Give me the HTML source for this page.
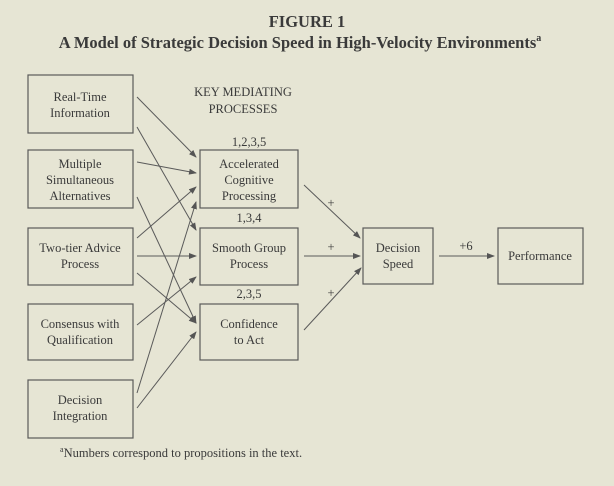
<!DOCTYPE html>
<html><head><meta charset="utf-8"><style>
html,body{margin:0;padding:0;background:#e6e5d4;}
svg{display:block;}
text{font-family:"Liberation Serif",serif;fill:#3a3a3a;}
</style></head><body>
<svg width="614" height="486" viewBox="0 0 614 486" xmlns="http://www.w3.org/2000/svg">
<defs><marker id="a" markerWidth="8" markerHeight="6" refX="7" refY="3" orient="auto" markerUnits="userSpaceOnUse"><path d="M0,0 L8,3 L0,6 z" fill="#555"/></marker></defs>
<rect width="614" height="486" fill="#e6e5d4"/>
<text x="307" y="27" text-anchor="middle" font-size="16.5" font-weight="bold">FIGURE 1</text>
<text x="300" y="48" text-anchor="middle" font-size="16.5" font-weight="bold">A Model of Strategic Decision Speed in High-Velocity Environments<tspan font-size="10" dy="-7">a</tspan></text>
<g fill="none" stroke="#5a5a5a" stroke-width="1.2">
<rect x="28" y="75" width="105" height="58"/>
<rect x="28" y="150" width="105" height="58"/>
<rect x="28" y="228" width="105" height="57"/>
<rect x="28" y="304" width="105" height="56"/>
<rect x="28" y="380" width="105" height="58"/>
<rect x="200" y="150" width="98" height="58"/>
<rect x="200" y="228" width="98" height="57"/>
<rect x="200" y="304" width="98" height="56"/>
<rect x="363" y="228" width="70" height="56"/>
<rect x="498" y="228" width="85" height="56"/>
</g>
<g stroke="#5a5a5a" stroke-width="1" marker-end="url(#a)">
<line x1="137" y1="97" x2="196" y2="157"/>
<line x1="137" y1="127" x2="196" y2="230"/>
<line x1="137" y1="162" x2="196" y2="173"/>
<line x1="137" y1="197" x2="196" y2="323"/>
<line x1="137" y1="238" x2="196" y2="187"/>
<line x1="137" y1="256" x2="196" y2="256"/>
<line x1="137" y1="273" x2="196" y2="323"/>
<line x1="137" y1="325" x2="196" y2="277"/>
<line x1="137" y1="393" x2="196" y2="202"/>
<line x1="137" y1="408" x2="196" y2="332"/>
<line x1="304" y1="185" x2="360" y2="238"/>
<line x1="304" y1="256" x2="360" y2="256"/>
<line x1="304" y1="330" x2="361" y2="268"/>
<line x1="439" y1="256" x2="494" y2="256"/>
</g>
<g font-size="12.5" text-anchor="middle">
<text x="80" y="101">Real-Time</text><text x="80" y="117">Information</text>
<text x="80" y="168">Multiple</text><text x="80" y="184">Simultaneous</text><text x="80" y="200">Alternatives</text>
<text x="80" y="252">Two-tier Advice</text><text x="80" y="268">Process</text>
<text x="80" y="328">Consensus with</text><text x="80" y="344">Qualification</text>
<text x="80" y="404">Decision</text><text x="80" y="420">Integration</text>
<text x="249" y="168">Accelerated</text><text x="249" y="184">Cognitive</text><text x="249" y="200">Processing</text>
<text x="249" y="252">Smooth Group</text><text x="249" y="268">Process</text>
<text x="249" y="328">Confidence</text><text x="249" y="344">to Act</text>
<text x="398" y="252">Decision</text><text x="398" y="268">Speed</text>
<text x="540" y="260">Performance</text>
<text x="243" y="96">KEY MEDIATING</text><text x="243" y="113">PROCESSES</text>
<text x="249" y="146">1,2,3,5</text>
<text x="249" y="222">1,3,4</text>
<text x="249" y="298">2,3,5</text>
<text x="331" y="207">+</text><text x="331" y="251">+</text><text x="331" y="297">+</text>
<text x="466" y="250">+6</text>
</g>
<text x="60" y="457" font-size="12.5"><tspan font-size="8" dy="-5">a</tspan><tspan dy="5">Numbers correspond to propositions in the text.</tspan></text>
</svg>
</body></html>
